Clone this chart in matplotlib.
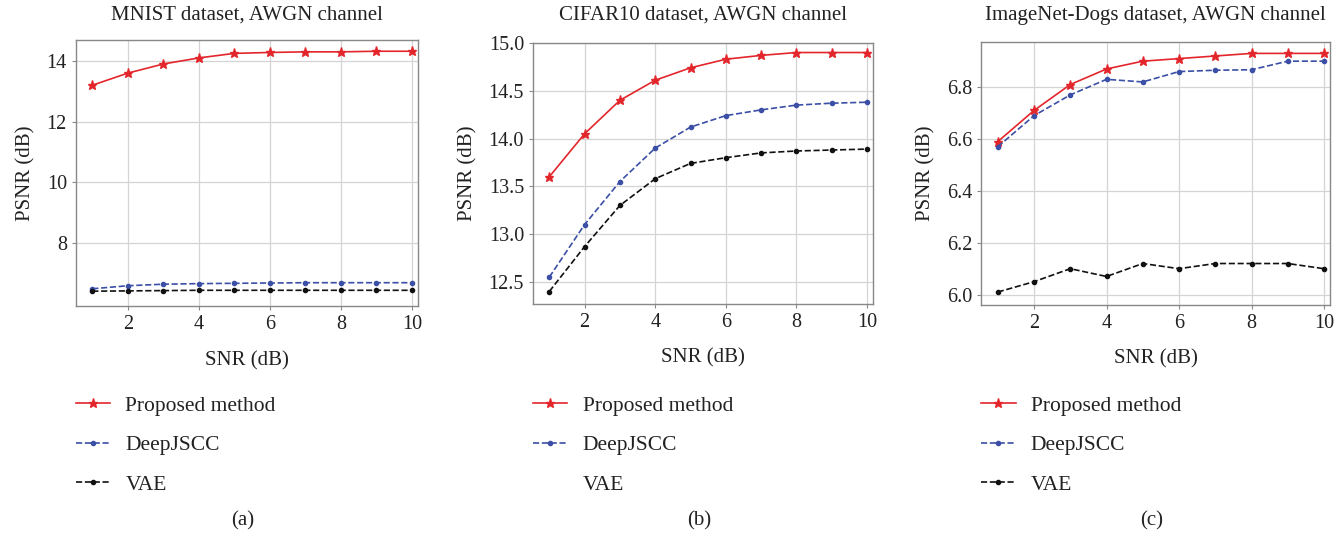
import matplotlib
matplotlib.use("Agg")
import matplotlib.pyplot as plt
from matplotlib.lines import Line2D

plt.rcParams['font.family'] = ['Liberation Serif', 'DejaVu Serif']

# SNR values shared by all panels
snr = [1, 2, 3, 4, 5, 6, 7, 8, 9, 10]

# MNIST
mnist_proposed = [13.2, 13.6, 13.9, 14.1, 14.25, 14.28, 14.3, 14.3, 14.32, 14.32]
mnist_deepjscc = [6.5, 6.6, 6.65, 6.67, 6.68, 6.69, 6.7, 6.7, 6.7, 6.7]
mnist_vae = [6.42, 6.43, 6.44, 6.45, 6.45, 6.45, 6.45, 6.45, 6.45, 6.45]

# CIFAR10
cifar_proposed = [13.6, 14.05, 14.4, 14.61, 14.74, 14.83, 14.87, 14.9, 14.9, 14.9]
cifar_deepjscc = [12.55, 13.1, 13.55, 13.9, 14.12, 14.24, 14.3, 14.35, 14.37, 14.38]
cifar_vae = [12.4, 12.87, 13.3, 13.58, 13.74, 13.8, 13.85, 13.87, 13.88, 13.89]

# ImageNet-Dogs
dogs_proposed = [6.59, 6.71, 6.81, 6.87, 6.90, 6.91, 6.92, 6.93, 6.93, 6.93]
dogs_deepjscc = [6.57, 6.69, 6.77, 6.83, 6.82, 6.86, 6.865, 6.867, 6.90, 6.90]
dogs_vae = [6.01, 6.05, 6.10, 6.07, 6.12, 6.10, 6.12, 6.12, 6.12, 6.10]

titles = ["MNIST dataset, AWGN channel",
          "CIFAR10 dataset, AWGN channel",
          "ImageNet-Dogs dataset, AWGN channel"]
panel_labels = ["(a)", "(b)", "(c)"]

red = "#e3262b"
blue = "#3b4fa6"
black = "#111111"

fig = plt.figure(figsize=(13.44, 5.37), dpi=100)

# axes rectangles (left, bottom, width, height) in figure fractions
rects = [
    [0.0565, 0.430, 0.2545, 0.4955],
    [0.3966, 0.434, 0.2530, 0.4860],
    [0.7300, 0.432, 0.2597, 0.4903],
]
ylims = [(5.93, 14.69), (12.27, 15.0), (5.96, 6.975)]
yticks = [[8, 10, 12, 14],
          [12.5, 13.0, 13.5, 14.0, 14.5, 15.0],
          [6.0, 6.2, 6.4, 6.6, 6.8]]
data = [
    (mnist_proposed, mnist_deepjscc, mnist_vae),
    (cifar_proposed, cifar_deepjscc, cifar_vae),
    (dogs_proposed, dogs_deepjscc, dogs_vae),
]

star_ms = 6.5
dot_ms = 3.0
lw = 1.2

for i in range(3):
    ax = fig.add_axes(rects[i])
    prop, deep, vae = data[i]
    ax.plot(snr, prop, color=red, lw=lw, marker="*", ms=star_ms)
    ax.plot(snr, deep, color=blue, lw=lw, ls="--", marker="o", ms=dot_ms)
    ax.plot(snr, vae, color=black, lw=lw, ls="--", marker="o", ms=dot_ms)

    ax.set_xlim(0.54, 10.17)
    ax.set_ylim(*ylims[i])
    ax.set_xticks([2, 4, 6, 8, 10])
    ax.set_yticks(yticks[i])
    if i == 0:
        ax.set_yticklabels([str(t) for t in yticks[i]])
    else:
        ax.set_yticklabels(["%.1f" % t for t in yticks[i]])
    ax.grid(True, color="#d4d4d4", lw=0.9)
    ax.set_axisbelow(True)
    for sp in ax.spines.values():
        sp.set_color("#888888")
        sp.set_linewidth(1.0)
    ax.tick_params(colors="#888888", labelcolor="#222222", labelsize=14.5,
                   length=3, width=0.8)
    ax.set_xlabel("SNR (dB)", fontsize=15, color="#222222", labelpad=12)
    ax.set_ylabel("PSNR (dB)", fontsize=15, color="#222222", labelpad=8)

    # title on a common line near the top of the figure
    fig.text(rects[i][0] + rects[i][2] / 2, 0.972, titles[i],
             ha="center", va="center", fontsize=15, color="#222222")

    # legend below each panel
    h_prop = Line2D([], [], color=red, lw=lw, marker="*", ms=star_ms)
    h_deep = Line2D([], [], color=blue, lw=lw, ls="--", marker="o", ms=dot_ms)
    if i == 1:
        h_vae = Line2D([], [], ls="none")
    else:
        h_vae = Line2D([], [], color=black, lw=lw, ls="--", marker="o", ms=dot_ms)
    fig.legend([h_prop, h_deep, h_vae], ["Proposed method", "DeepJSCC", "VAE"],
               loc="upper left",
               bbox_to_anchor=(rects[i][0], 0.263),
               frameon=False, fontsize=15.5, handlelength=1.6,
               handletextpad=0.7, labelspacing=0.9,
               borderaxespad=0, borderpad=0,
               labelcolor="#222222")

    fig.text(rects[i][0] + rects[i][2] / 2 - 0.003, 0.03, panel_labels[i],
             ha="center", va="center", fontsize=15, color="#222222")

fig.savefig("out.png", dpi=100)
